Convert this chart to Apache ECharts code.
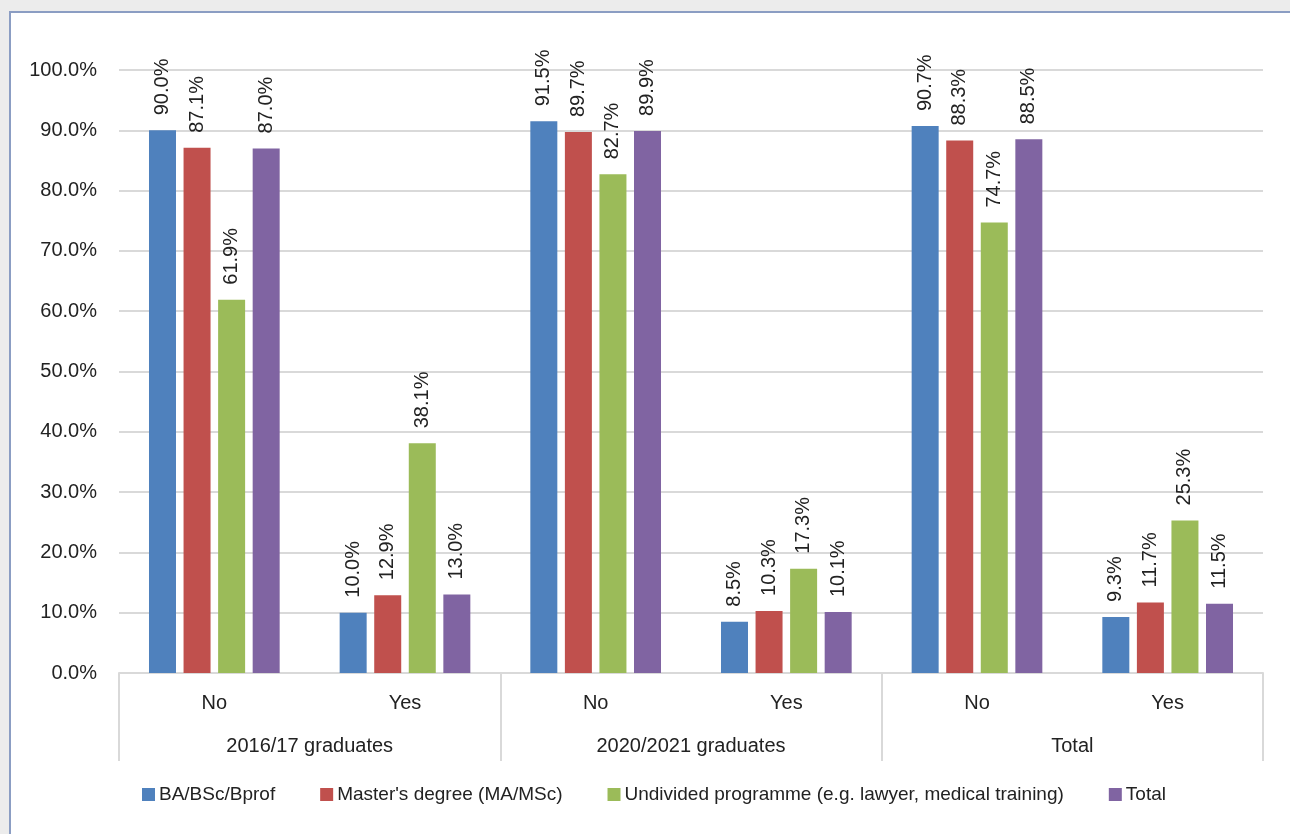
<!DOCTYPE html>
<html>
<head>
<meta charset="utf-8">
<script src="https://cdn.jsdelivr.net/npm/echarts@6/dist/echarts.min.js"></script>
<style>
  html, body { margin: 0; padding: 0; width: 1290px; height: 834px; overflow: hidden; background: #ececec; }
  #frame { position: absolute; left: 9px; top: 11px; width: 1300px; height: 840px; background: #fff; border-left: 2px solid #8b9dc3; border-top: 2px solid #8b9dc3; box-sizing: border-box; }
  #chart { position: absolute; left: 0; top: 0; width: 1290px; height: 834px; }
</style>
</head>
<body>
<div id="frame"></div>
<div id="chart"></div>
<script>
// Share of graduates (%) by answer and cohort, one series per programme type
const answers = ['No', 'Yes', 'No', 'Yes', 'No', 'Yes'];
const groups = ['2016/17 graduates', '2020/2021 graduates', 'Total'];
const seriesNames = ['BA/BSc/Bprof', "Master's degree (MA/MSc)", 'Undivided programme (e.g. lawyer, medical training)', 'Total'];
const bachelor = [90.0, 10.0, 91.5, 8.5, 90.7, 9.3];
const master = [87.1, 12.9, 89.7, 10.3, 88.3, 11.7];
const undivided = [61.9, 38.1, 82.7, 17.3, 74.7, 25.3];
const total = [87.0, 13.0, 89.9, 10.1, 88.5, 11.5];
const colors = ['#4f81bd', '#c0504d', '#9bbb59', '#8064a2'];

const FONT = '"Liberation Sans", Arial, sans-serif';
const TEXT = '#222';

const chart = echarts.init(document.getElementById('chart'), null, { renderer: 'canvas' });

const values = [bachelor, master, undivided, total];
const series = values.map((data, i) => ({
  name: seriesNames[i],
  type: 'bar',
  xAxisIndex: 0,
  data: data,
  barWidth: 27,
  barGap: '28%',
  itemStyle: { color: colors[i] },
  label: {
    show: true,
    position: 'top',
    rotate: 90,
    align: 'left',
    verticalAlign: 'middle',
    distance: 15,
    fontFamily: FONT,
    fontSize: 20,
    color: TEXT,
    formatter: p => p.value.toFixed(1) + '%'
  }
}));

chart.setOption({
  animation: false,
  textStyle: { fontFamily: FONT },
  grid: { left: 119, right: 27, top: 70, bottom: 161 },
  legend: {
    bottom: 25,
    left: 137,
    itemWidth: 13,
    itemHeight: 13,
    itemGap: 45,
    icon: 'rect',
    textStyle: { fontFamily: FONT, fontSize: 19, color: TEXT, padding: [0, 0, 0, -1] },
    data: seriesNames
  },
  xAxis: [
    {
      type: 'category',
      data: answers,
      axisLine: { show: true, lineStyle: { color: '#d9d9d9', width: 2 } },
      axisTick: { show: false },
      axisLabel: { margin: 20, fontFamily: FONT, fontSize: 20, color: TEXT }
    },
    {
      type: 'category',
      data: groups,
      position: 'bottom',
      axisLine: { show: false },
      axisTick: { show: true, length: 88, lineStyle: { color: '#d9d9d9', width: 2 } },
      axisLabel: { margin: 63, fontFamily: FONT, fontSize: 20, color: TEXT },
      splitLine: { show: false }
    }
  ],
  yAxis: {
    type: 'value',
    min: 0,
    max: 100,
    interval: 10,
    axisLine: { show: false },
    axisTick: { show: false },
    axisLabel: { margin: 22, fontFamily: FONT, fontSize: 20, color: TEXT, formatter: v => v.toFixed(1) + '%' },
    splitLine: { lineStyle: { color: '#d9d9d9', width: 2 } }
  },
  series: series
});
</script>
</body>
</html>
